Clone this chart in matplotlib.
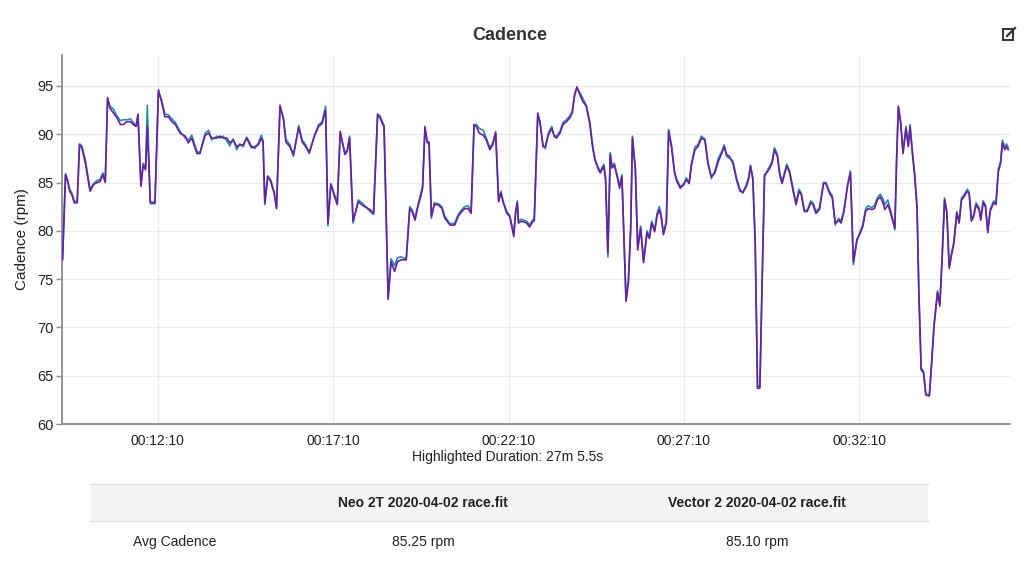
import matplotlib
matplotlib.use("Agg")
import matplotlib.pyplot as plt
from matplotlib.patches import Rectangle
from matplotlib.lines import Line2D
from matplotlib.ticker import FuncFormatter

plt.rcParams['font.family'] = ['Liberation Sans', 'DejaVu Sans']

# elapsed ride time in seconds
time_s = [
    567, 572, 576, 579, 583, 587, 592, 596, 600, 606,
    614, 620, 626, 631, 636, 640, 644, 648, 654, 660,
    666, 671, 677, 683, 688, 693, 696, 701, 705, 709,
    712, 717, 725, 731, 737, 742, 748, 754, 760, 768,
    777, 782, 788, 797, 802, 811, 817, 822, 831, 836,
    842, 848, 853, 859, 865, 870, 876, 882, 890, 896,
    902, 907, 910, 913, 918, 923, 929, 933, 939, 945,
    949, 956, 962, 971, 977, 983, 989, 998, 1005, 1011,
    1017, 1021, 1026, 1032, 1037, 1042, 1050, 1054, 1058, 1064,
    1073, 1079, 1084, 1093, 1099,
    1106, 1110, 1115, 1117, 1124, 1129, 1135, 1140, 1146, 1155,
    1161, 1165, 1170, 1175, 1180, 1183, 1187, 1191, 1194, 1198,
    1203, 1210, 1216, 1221, 1230, 1238, 1244, 1250, 1255, 1261,
    1266, 1271, 1275, 1280, 1287, 1292, 1298, 1303, 1308, 1313,
    1317, 1321, 1327, 1332, 1339, 1342, 1345, 1347, 1352, 1361,
    1366, 1372, 1374, 1380, 1384, 1389, 1393, 1398, 1404, 1408,
    1412, 1418, 1423, 1429, 1435, 1439, 1443, 1447, 1452, 1457,
    1463, 1469, 1474, 1478, 1484, 1487, 1493, 1496, 1500, 1504,
    1507, 1511, 1517, 1520, 1524, 1527, 1531, 1535, 1539, 1542,
    1547, 1551, 1556, 1561, 1567, 1571, 1575, 1580, 1584, 1588,
    1591, 1595, 1600, 1604, 1609, 1614, 1618, 1624,
    1630, 1634, 1639, 1643, 1649, 1654, 1660, 1666, 1671, 1677,
    1683, 1689, 1694, 1699, 1703, 1708, 1714, 1720, 1726, 1731,
    1737, 1741, 1744, 1748, 1752, 1756, 1760, 1764, 1768, 1773,
    1777, 1781, 1785, 1790, 1794, 1798, 1802, 1806, 1811, 1817,
    1822, 1827, 1831, 1836, 1841, 1847, 1851, 1856, 1862, 1869,
    1873, 1879, 1884, 1889, 1895, 1899,
    1904, 1910, 1915, 1920, 1926, 1932, 1936, 1941, 1945, 1951,
    1956, 1961, 1966, 1970, 1974, 1979, 1983, 1987, 1991, 1994,
    1997, 2001, 2005, 2010, 2014, 2017, 2021, 2025, 2029, 2032,
    2036, 2040, 2044, 2050, 2054, 2058, 2064, 2068, 2072, 2076,
    2080, 2084, 2088, 2092, 2097, 2101, 2105, 2109, 2115, 2118,
    2122, 2126, 2130, 2135, 2138, 2142, 2146, 2150, 2154, 2160,
    2164, 2168, 2172, 2175, 2179, 2182, 2185,
]

# Neo 2T cadence (rpm)
neo_rpm = [
    77.2, 85.9, 85.2, 84.3, 83.9, 83.1, 83.0, 89.0, 88.8, 87.3,
    84.3, 84.9, 85.2, 85.3, 86.0, 85.1, 93.6, 92.9, 92.6, 91.9,
    91.4, 91.5, 91.5, 91.6, 91.2, 90.9, 92.1, 84.8, 87.0, 86.6,
    93.0, 82.8, 82.8, 94.4, 93.4, 92.1, 92.0, 91.6, 91.2, 90.3,
    89.6, 89.4, 89.9, 88.2, 88.1, 90.1, 90.4, 89.4, 89.8, 89.6,
    89.8, 89.3, 88.8, 89.5, 88.4, 89.0, 88.7, 89.7, 88.8, 88.5,
    89.1, 89.9, 89.3, 82.7, 85.7, 85.3, 84.0, 82.4, 92.8, 91.7,
    89.5, 88.9, 87.7, 90.9, 89.4, 88.9, 88.0, 89.9, 91.0, 91.3,
    92.9, 80.5, 84.9, 83.8, 82.9, 90.1, 88.1, 88.4, 89.8, 80.8,
    83.2, 82.9, 82.6, 82.0, 81.7,
    92.0, 91.9, 91.2, 90.9, 73.1, 77.1, 76.4, 77.2, 77.3, 77.1,
    82.5, 82.2, 81.3, 82.7, 83.9, 84.7, 90.6, 89.3, 89.0, 81.3,
    82.9, 82.8, 82.5, 81.5, 80.7, 80.8, 81.7, 82.2, 82.5, 82.6,
    82.0, 90.9, 91.0, 90.6, 90.4, 89.6, 88.6, 89.1, 90.3, 83.3,
    84.1, 83.0, 82.0, 81.6, 79.7, 81.9, 83.1, 81.0, 81.2, 81.0,
    80.6, 81.2, 81.0, 92.0, 91.3, 88.9, 88.5, 90.1, 90.8, 89.7,
    89.8, 90.3, 91.2, 91.5, 91.9, 92.4, 94.0, 94.8, 94.3, 93.7,
    93.0, 91.3, 88.8, 87.4, 86.5, 86.2, 86.9, 85.5, 77.3, 88.1,
    86.7, 87.0, 85.5, 84.6, 85.8, 80.3, 72.9, 74.8, 80.3, 89.8,
    86.5, 78.3, 80.5, 76.9, 80.0, 79.4, 81.0, 80.1, 81.8, 82.5,
    81.7, 79.8, 81.0, 90.5, 88.8, 86.2, 85.3, 84.6,
    84.7, 85.5, 85.0, 87.0, 88.7, 88.9, 89.8, 89.5, 87.2, 85.4,
    86.2, 87.5, 88.1, 88.9, 87.7, 87.5, 87.2, 85.5, 84.3, 83.9,
    84.8, 85.6, 86.8, 85.5, 79.2, 63.9, 63.9, 74.7, 85.6, 86.3,
    86.7, 87.2, 88.6, 87.9, 86.0, 85.1, 86.0, 86.9, 86.2, 84.3,
    82.9, 84.3, 83.9, 82.2, 82.1, 83.1, 82.9, 82.0, 82.4, 85.0,
    85.0, 84.1, 83.6, 80.6, 81.3, 81.0,
    82.2, 84.8, 86.2, 76.5, 78.9, 80.0, 80.6, 82.3, 82.6, 82.4,
    82.6, 83.4, 83.8, 83.4, 82.7, 83.2, 82.3, 81.3, 80.1, 87.6,
    92.8, 91.3, 88.2, 90.8, 88.9, 91.0, 88.2, 85.9, 82.5, 74.0,
    65.8, 65.5, 63.1, 63.0, 66.5, 70.3, 73.8, 72.4, 77.6, 83.4,
    82.0, 76.3, 77.7, 78.9, 82.0, 81.0, 83.4, 83.7, 84.3, 84.0,
    81.2, 81.7, 82.9, 82.4, 81.3, 83.1, 82.7, 80.0, 82.2, 83.1,
    82.9, 86.4, 87.2, 89.4, 88.6, 89.0, 88.6,
]

# Vector 2 cadence (rpm)
vector_rpm = [
    77.0, 85.8, 85.0, 84.1, 83.7, 82.9, 82.9, 88.9, 88.6, 87.0,
    84.1, 84.8, 85.0, 85.1, 85.8, 85.0, 93.8, 92.7, 92.2, 91.7,
    91.0, 91.0, 91.3, 91.3, 91.0, 90.8, 92.0, 84.6, 86.8, 86.3,
    90.8, 83.0, 82.9, 94.6, 93.2, 91.8, 91.8, 91.3, 91.0, 90.1,
    89.8, 89.1, 89.6, 88.0, 88.0, 89.9, 90.1, 89.6, 89.6, 89.8,
    89.6, 89.6, 89.1, 89.4, 88.7, 88.9, 88.9, 89.6, 88.6, 88.7,
    88.9, 89.6, 89.2, 82.9, 85.6, 85.1, 83.9, 82.3, 93.0, 91.5,
    89.2, 88.7, 87.9, 90.7, 89.2, 88.7, 88.1, 89.8, 90.8, 91.1,
    92.5, 80.8, 84.8, 83.6, 82.7, 90.3, 87.9, 88.2, 89.6, 81.0,
    83.0, 82.7, 82.5, 82.2, 81.8,
    92.1, 91.7, 91.0, 90.8, 72.9, 76.8, 75.8, 76.8, 77.0, 77.0,
    82.3, 82.0, 81.1, 82.5, 83.6, 84.4, 90.8, 89.1, 89.2, 81.5,
    82.7, 82.7, 82.3, 81.3, 80.6, 80.6, 81.5, 82.0, 82.3, 82.3,
    81.8, 91.0, 90.8, 90.1, 89.9, 89.4, 88.4, 88.9, 90.1, 83.0,
    83.9, 82.9, 81.8, 81.5, 79.4, 81.8, 82.9, 80.8, 81.0, 80.8,
    80.4, 81.0, 81.1, 92.2, 91.1, 88.7, 88.7, 89.9, 90.6, 89.9,
    89.6, 90.1, 91.0, 91.3, 91.7, 92.2, 94.1, 94.9, 94.1, 93.4,
    92.9, 91.1, 88.6, 87.3, 86.3, 86.0, 86.7, 85.3, 77.7, 87.9,
    86.5, 86.8, 85.3, 84.4, 85.6, 80.1, 72.7, 74.6, 80.1, 89.6,
    86.3, 78.0, 80.3, 76.7, 79.8, 79.2, 80.8, 79.9, 81.5, 82.2,
    81.5, 79.6, 80.8, 90.3, 88.6, 86.0, 85.1, 84.4,
    84.9, 85.3, 84.9, 86.8, 88.4, 88.7, 89.6, 89.4, 87.0, 85.6,
    86.0, 87.2, 87.9, 88.7, 87.9, 87.7, 87.0, 85.3, 84.1, 84.0,
    84.6, 85.4, 86.7, 85.3, 78.7, 63.7, 63.7, 75.2, 85.8, 86.1,
    86.5, 87.0, 88.4, 87.7, 85.8, 84.9, 85.8, 86.7, 86.0, 84.1,
    82.7, 84.1, 83.7, 82.0, 82.0, 82.9, 82.7, 81.8, 82.2, 84.9,
    84.9, 83.9, 83.4, 80.8, 81.1, 80.8,
    82.0, 84.6, 86.0, 76.8, 79.1, 79.8, 80.4, 82.0, 82.3, 82.2,
    82.3, 83.2, 83.5, 83.0, 82.2, 82.7, 82.0, 81.1, 80.3, 87.3,
    92.9, 91.1, 88.0, 90.6, 88.7, 90.8, 88.0, 85.6, 82.2, 73.6,
    65.6, 65.3, 63.0, 62.9, 66.3, 70.1, 73.6, 72.2, 77.3, 83.2,
    81.8, 76.1, 77.5, 78.7, 81.8, 80.8, 83.2, 83.5, 84.1, 83.9,
    81.0, 81.5, 82.7, 82.2, 81.1, 82.9, 82.5, 79.8, 82.0, 82.9,
    82.7, 86.1, 87.0, 89.1, 88.4, 88.7, 88.4,
]

x_ticks = [730, 1030, 1330, 1630, 1930]
y_ticks = [60, 65, 70, 75, 80, 85, 90, 95]
files = ['Neo 2T 2020-04-02 race.fit', 'Vector 2 2020-04-02 race.fit']
avg_cadence = ['85.25 rpm', '85.10 rpm']


def hms(s, pos=None):
    s = int(round(s))
    return '%02d:%02d:%02d' % (s // 3600, (s % 3600) // 60, s % 60)


W, H = 1024, 564
fig = plt.figure(figsize=(W / 100, H / 100), dpi=100)
fig.patch.set_facecolor('white')


def fx(px):
    return px / W


def fy(py):
    return 1 - py / H


ax = fig.add_axes([fx(62), fy(424), fx(1010) - fx(62), fy(55) - fy(424)])

ax.plot(time_s, neo_rpm, color='#2a8ea3', lw=1.2, zorder=3)
ax.plot(time_s, vector_rpm, color='#6a1fa0', lw=1.2, zorder=4)

ax.set_xlim(566, 2188)
ax.set_ylim(60, 98.2)
ax.set_xticks(x_ticks)
ax.xaxis.set_major_formatter(FuncFormatter(hms))
ax.set_yticks(y_ticks)
ax.grid(True, color='#ebebef', lw=0.9)
ax.set_axisbelow(True)

for side in ['top', 'right']:
    ax.spines[side].set_visible(False)
ax.spines['left'].set_color('#8c8c8c')
ax.spines['left'].set_linewidth(1.3)
ax.spines['bottom'].set_color('#8c8c8c')
ax.spines['bottom'].set_linewidth(1.3)
ax.tick_params(axis='x', length=0, pad=7, labelsize=10, labelcolor='#222222')
ax.tick_params(axis='y', length=4, width=1, color='#8c8c8c', pad=2,
               labelsize=10.5, labelcolor='#222222')

ax.set_ylabel('Cadence (rpm)', fontsize=11, color='#222222', labelpad=6)

fig.text(fx(510), fy(35), 'Cadence', ha='center', va='center',
         fontsize=13, fontweight='bold', color='#333333')
fig.text(fx(508), fy(457), 'Highlighted Duration: 27m 5.5s', ha='center',
         va='center', fontsize=10, color='#222222')

# edit icon, top right
fig.patches.append(Rectangle((fx(1003), fy(40)), fx(10), fy(29) - fy(40),
                             transform=fig.transFigure, fill=False,
                             ec='#333333', lw=1.4))
fig.lines.append(Line2D([fx(1007), fx(1015)], [fy(36), fy(28)],
                        transform=fig.transFigure, color='#333333', lw=1.6))

# summary table
fig.patches.append(Rectangle((fx(90), fy(521)), fx(928) - fx(90), fy(484) - fy(521),
                             transform=fig.transFigure, fc='#f6f4f2', ec='none'))
for py in [484, 521]:
    fig.lines.append(Line2D([fx(90), fx(928)], [fy(py), fy(py)],
                            transform=fig.transFigure, color='#dcdcdc', lw=0.9))

col_centers = [423, 757]
for cx, name, val in zip(col_centers, files, avg_cadence):
    fig.text(fx(cx), fy(503), name, ha='center', va='center', fontsize=10,
             fontweight='bold', color='#222222')
    fig.text(fx(cx), fy(542), val, ha='center', va='center', fontsize=10,
             color='#222222')
fig.text(fx(133), fy(542), 'Avg Cadence', ha='left', va='center', fontsize=10,
         color='#222222')

fig.savefig('out.png', dpi=100)
